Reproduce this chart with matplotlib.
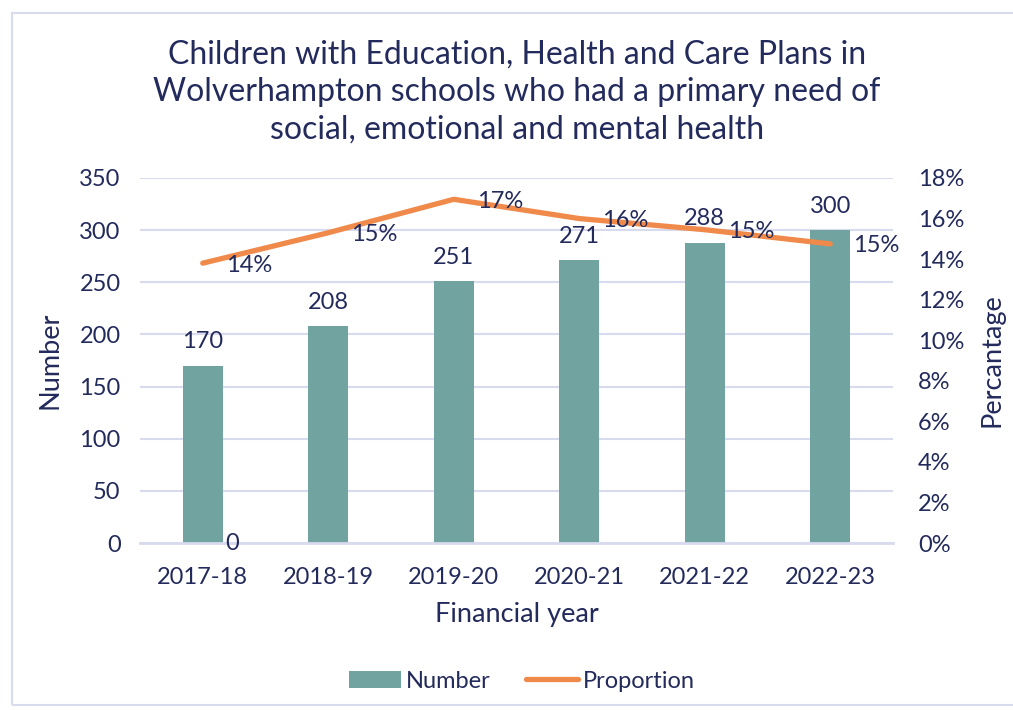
import matplotlib
matplotlib.use("Agg")
import matplotlib.pyplot as plt
from matplotlib.patches import Rectangle
from matplotlib.ticker import FuncFormatter

plt.rcParams["font.family"] = ["Lato", "DejaVu Sans"]

# Data
years = ["2017-18", "2018-19", "2019-20", "2020-21", "2021-22", "2022-23"]
numbers = [170, 208, 251, 271, 288, 300]
proportion = [13.8, 15.3, 16.95, 16.0, 15.45, 14.75]
extra_label_value = 0  # stray zero label on first category

TEXT = "#232A5C"
BAR = "#71A3A0"
LINE = "#F08A4B"
GRID = "#D8DAEE"

fig = plt.figure(figsize=(10.13, 7.10), dpi=100)
fig.patches.append(Rectangle((12 / 1013, 5 / 710), 1.2, 692 / 710, transform=fig.transFigure,
                             fill=False, edgecolor=GRID, linewidth=1.5))

ax = fig.add_axes([0.1382, 0.2352, 0.7433, 0.5141])
ax2 = ax.twinx()
ax.set_zorder(ax2.get_zorder() - 1)
ax2.patch.set_visible(False)

x = list(range(len(years)))
bars = ax.bar(x, numbers, width=0.32, color=BAR, label="Number", zorder=2)
ax.set_xlim(-0.5, len(years) - 0.5)
ax.set_ylim(0, 350)
ax.set_yticks(range(0, 351, 50))
ax.grid(axis="y", color=GRID, linewidth=1.5, zorder=0)
for s in ["top", "right", "left"]:
    ax.spines[s].set_visible(False)
ax.spines["bottom"].set_color(GRID)
ax.spines["bottom"].set_linewidth(2)
ax.tick_params(length=0, labelsize=17, colors=TEXT)
ax.tick_params(axis="x", pad=17)
ax.tick_params(axis="y", pad=14)
ax.set_xticks(x)
ax.set_xticklabels(years)
ax.set_ylabel("Number", fontsize=19.5, color=TEXT, labelpad=12)
ax.set_xlabel("Financial year", fontsize=19.5, color=TEXT, labelpad=10)

for xi, n in zip(x, numbers):
    ax.annotate(str(n), (xi, n), xytext=(0, 24), textcoords="offset pixels",
                ha="center", va="center", fontsize=17, color=TEXT)
ax.annotate(str(extra_label_value), (x[0], extra_label_value), xytext=(23, 0),
            textcoords="offset pixels", ha="left", va="center", fontsize=17, color=TEXT)

ax2.plot(x, proportion, color=LINE, linewidth=3.8, solid_capstyle="round", label="Proportion")
ax2.set_ylim(0, 18)
ax2.set_yticks(range(0, 19, 2))
ax2.yaxis.set_major_formatter(FuncFormatter(lambda v, p: f"{v:.0f}%"))
for s in ["top", "right", "left", "bottom"]:
    ax2.spines[s].set_visible(False)
ax2.tick_params(length=0, labelsize=17, colors=TEXT, pad=18)
ax2.set_ylabel("Percantage", fontsize=19.5, color=TEXT, labelpad=11)
for xi, p in zip(x, proportion):
    ax2.annotate(f"{round(p)}%", (xi, p), xytext=(23, -2), textcoords="offset pixels",
                 ha="left", va="center", fontsize=17, color=TEXT)

fig.text(0.51, 1 - 92 / 710,
         "Children with Education, Health and Care Plans in\n"
         "Wolverhampton schools who had a primary need of\n"
         "social, emotional and mental health",
         ha="center", va="center", fontsize=23, color=TEXT, linespacing=1.3)

h1, l1 = ax.get_legend_handles_labels()
h2, l2 = ax2.get_legend_handles_labels()
fig.legend(h1 + h2, l1 + l2, loc="center", bbox_to_anchor=(0.515, 1 - 681 / 710), ncol=2,
           frameon=False, fontsize=17, labelcolor=TEXT, handlelength=2.2,
           handletextpad=0.2, columnspacing=1.5)

fig.savefig("out.png", dpi=100)
